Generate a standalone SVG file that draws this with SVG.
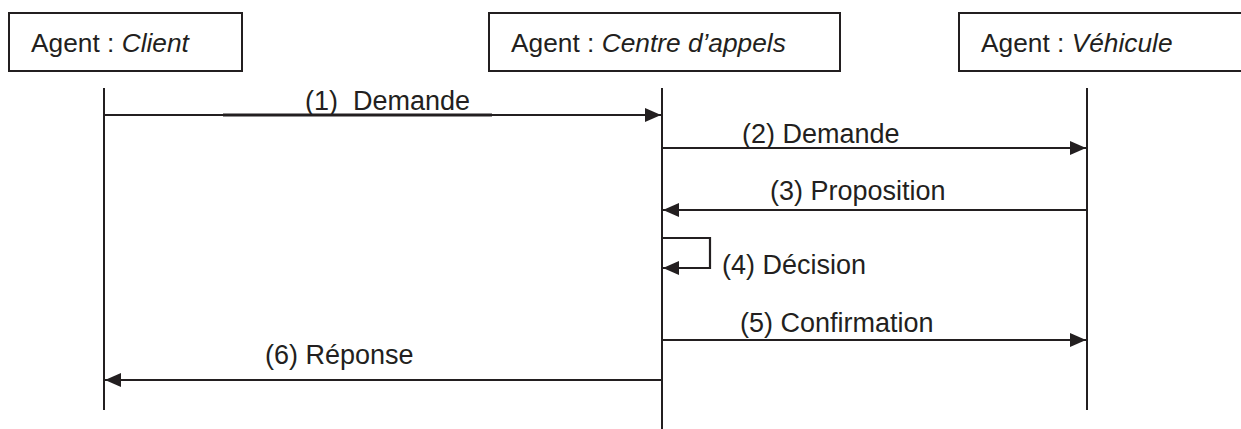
<svg xmlns="http://www.w3.org/2000/svg" width="1241" height="429" viewBox="0 0 1241 429">
<style>
text{font-family:"Liberation Sans",Arial,sans-serif;font-size:27px;fill:#231f20}
text.title{font-size:26.3px}
.box{fill:#fff;stroke:#231f20;stroke-width:2}
.life{stroke:#231f20;stroke-width:2;fill:none}
.msg{stroke:#231f20;stroke-width:2.2;fill:none}
.ul{stroke:#231f20;stroke-width:3}
</style>
<defs>
<marker id="ah" markerUnits="userSpaceOnUse" markerWidth="16" markerHeight="14" viewBox="0 0 16 14" refX="16" refY="7" orient="auto">
<path d="M0,0 L16,7 L0,14 Z" fill="#231f20"/>
</marker>
</defs>
<rect width="1241" height="429" fill="#fff"/>
<g id="client">
<rect class="box" x="9" y="13" width="233" height="58"/>
<text class="title" x="31" y="52">Agent : <tspan font-style="italic">Client</tspan></text>
<line class="life" x1="104" y1="88" x2="104" y2="410"/>
</g>
<g id="centre">
<rect class="box" x="489" y="13" width="351" height="58"/>
<text class="title" x="511" y="52">Agent : <tspan font-style="italic">Centre d’appels</tspan></text>
<line class="life" x1="662" y1="88" x2="662" y2="429"/>
</g>
<g id="vehicule">
<rect class="box" x="959" y="13" width="300" height="58"/>
<text class="title" x="981" y="52">Agent : <tspan font-style="italic">Véhicule</tspan></text>
<line class="life" x1="1087" y1="88" x2="1087" y2="410"/>
</g>
<g id="connectors">
<line class="msg" x1="104" y1="115" x2="661" y2="115" marker-end="url(#ah)"/>
<line class="ul" x1="223" y1="115" x2="492" y2="115"/>
<text x="305" y="110" xml:space="preserve">(1)  Demande</text>
<line class="msg" x1="662" y1="148" x2="1086" y2="148" marker-end="url(#ah)"/>
<line class="msg" x1="722" y1="148" x2="990" y2="148" stroke-width="2.8"/>
<text x="742" y="143">(2) Demande</text>
<line class="msg" x1="1087" y1="210" x2="663" y2="210" marker-end="url(#ah)"/>
<text x="770" y="200">(3) Proposition</text>
<polyline class="msg" points="662,238 710,238 710,268 663,268" marker-end="url(#ah)"/>
<text x="722" y="274">(4) Décision</text>
<line class="msg" x1="662" y1="340" x2="1086" y2="340" marker-end="url(#ah)"/>
<text x="740" y="332">(5) Confirmation</text>
<line class="msg" x1="662" y1="380" x2="105" y2="380" marker-end="url(#ah)"/>
<text x="265" y="364">(6) Réponse</text>
</g>
</svg>
